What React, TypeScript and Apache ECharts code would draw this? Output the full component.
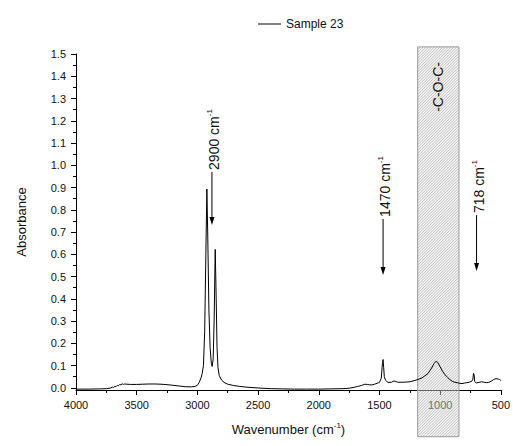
import React, { useEffect, useRef } from 'react';
import * as echarts from 'echarts';

const seriesName = 'Sample 23';

const wavenumbers = [
  4000, 3900, 3800, 3750, 3720, 3700, 3690, 3680, 3670, 3660, 3650, 3640, 3630, 3620, 3610, 3600,
  3580, 3550, 3500, 3450, 3400, 3350, 3300, 3250, 3200, 3150, 3100, 3050, 3020, 3000, 2985, 2970,
  2960, 2950, 2940, 2930, 2922, 2915, 2905, 2895, 2885, 2878, 2870, 2862, 2853, 2845, 2838, 2830,
  2820, 2800, 2780, 2750, 2700, 2650, 2600, 2550, 2500, 2400, 2300, 2200, 2100, 2000, 1900, 1800,
  1750, 1700, 1680, 1650, 1620, 1600, 1580, 1560, 1540, 1520, 1500, 1485, 1475, 1470, 1465, 1460,
  1450, 1430, 1400, 1380, 1370, 1350, 1300, 1250, 1200, 1150, 1100, 1070, 1050, 1035, 1020, 1000,
  980, 960, 940, 920, 900, 880, 860, 840, 820, 800, 780, 760, 740, 730, 725, 720,
  715, 710, 700, 680, 660, 640, 620, 600, 580, 560, 540, 520, 510, 500,
];

const absorbance = [
  -0.006, -0.006, -0.005, -0.004, -0.002, 0.003, 0.001, 0.007, 0.005, 0.011, 0.009, 0.015, 0.013, 0.018, 0.015, 0.017,
  0.016, 0.015, 0.015, 0.016, 0.017, 0.017, 0.016, 0.014, 0.011, 0.008, 0.005, 0.004, 0.006, 0.011, 0.024, 0.044,
  0.065, 0.1, 0.25, 0.6, 0.893, 0.7, 0.35, 0.18, 0.11, 0.096, 0.13, 0.3, 0.622, 0.4, 0.18, 0.09,
  0.055, 0.034, 0.024, 0.016, 0.01, 0.006, 0.003, 0.001, -0.001, -0.004, -0.005, -0.006, -0.006, -0.006, -0.005, -0.004,
  -0.002, 0.003, 0.006, 0.01, 0.016, 0.015, 0.013, 0.013, 0.016, 0.02, 0.024, 0.043, 0.113, 0.127, 0.09, 0.05,
  0.034, 0.024, 0.025, 0.031, 0.029, 0.025, 0.025, 0.027, 0.034, 0.044, 0.064, 0.089, 0.109, 0.119, 0.114, 0.094,
  0.074, 0.059, 0.047, 0.037, 0.029, 0.025, 0.023, 0.02, 0.019, 0.021, 0.023, 0.025, 0.029, 0.039, 0.065, 0.059,
  0.029, 0.024, 0.022, 0.024, 0.027, 0.025, 0.023, 0.024, 0.029, 0.037, 0.041, 0.039, 0.037, 0.033,
];

const yTickValues = [0, 0.1, 0.2, 0.3, 0.4, 0.5, 0.6, 0.7, 0.8, 0.9, 1.0, 1.1, 1.2, 1.3, 1.4, 1.5];
const yMinorTickValues = [0.05, 0.15, 0.25, 0.35, 0.45, 0.55, 0.65, 0.75, 0.85, 0.95, 1.05, 1.15, 1.25, 1.35, 1.45];

// peak annotations: label, wavenumber of arrow, absorbance where text starts, absorbance of arrow tip
const annotationLabels = ['2900', '1470', '718'];
const annotationWavenumbers = [2880, 1470, 700];
const annotationTextStart = [0.979, 0.768, 0.785];
const annotationTip = [0.732, 0.507, 0.525];

// shaded band
const bandLabel = '-C-O-C-';
const bandFrom = 1185;
const bandTo = 845;
const bandTop = 1.532;
const bandBottom = -0.22;
const bandTextStart = 1.24;

const FONT = 'Liberation Sans, Arial, Helvetica, sans-serif';
const TEXT_COLOR = '#111';

function buildGraphics(chart: echarts.ECharts) {
  const px = (w: number, v: number) => chart.convertToPixel({ seriesIndex: 0 }, [w, v]) as number[];
  const els: any[] = [];

  // band
  const pA = px(bandFrom, bandTop);
  const pB = px(bandTo, bandBottom);
  const x0 = Math.min(pA[0], pB[0]);
  const x1 = Math.max(pA[0], pB[0]);
  const y0 = Math.min(pA[1], pB[1]);
  const y1 = Math.max(pA[1], pB[1]);
  els.push({
    type: 'rect',
    z: 1,
    silent: true,
    shape: { x: x0, y: y0, width: x1 - x0, height: y1 - y0 },
    style: { fill: 'rgba(230,230,230,0.4)', stroke: 'none' },
  });
  const step = 2.8;
  for (let c = x0 + y0 + step; c < x1 + y1; c += step) {
    const xa = Math.max(x0, c - y1);
    const xb = Math.min(x1, c - y0);
    if (xa < xb) {
      els.push({
        type: 'line',
        z: 1,
        silent: true,
        shape: { x1: xa, y1: c - xa, x2: xb, y2: c - xb },
        style: { stroke: 'rgba(140,140,140,0.85)', lineWidth: 0.6 },
      });
    }
  }
  els.push({
    type: 'rect',
    z: 1,
    silent: true,
    shape: { x: x0, y: y0, width: x1 - x0, height: y1 - y0 },
    style: { fill: 'none', stroke: '#999', lineWidth: 1 },
  });
  const pT = px((bandFrom + bandTo) / 2, bandTextStart);
  els.push({
    type: 'text',
    z: 4,
    silent: true,
    x: (x0 + x1) / 2,
    y: pT[1],
    rotation: Math.PI / 2,
    style: {
      text: bandLabel,
      fontSize: 14,
      fontFamily: FONT,
      fill: TEXT_COLOR,
      align: 'left',
      verticalAlign: 'middle',
    },
  });

  // arrows
  annotationLabels.forEach((lab, i) => {
    const s = px(annotationWavenumbers[i], annotationTextStart[i]);
    const t = px(annotationWavenumbers[i], annotationTip[i]);
    const x = s[0];
    els.push({
      type: 'text',
      z: 4,
      silent: true,
      x: x + 2,
      y: s[1],
      rotation: Math.PI / 2,
      style: {
        text: `{a|${lab} cm}{s|-1}`,
        align: 'left',
        verticalAlign: 'middle',
        rich: {
          a: { fontSize: 14, fontFamily: FONT, fill: TEXT_COLOR, lineHeight: 14 },
          s: { fontSize: 8, fontFamily: FONT, fill: TEXT_COLOR, lineHeight: 8, padding: [0, 0, 9, 0] },
        },
      },
    });
    els.push({
      type: 'line',
      z: 4,
      silent: true,
      shape: { x1: x, y1: s[1] + 2, x2: x, y2: t[1] - 6 },
      style: { stroke: '#000', lineWidth: 1 },
    });
    els.push({
      type: 'polygon',
      z: 4,
      silent: true,
      shape: { points: [[x - 2.5, t[1] - 8], [x + 2.5, t[1] - 8], [x, t[1]]] },
      style: { fill: '#000' },
    });
  });
  return els;
}

export default function App() {
  const ref = useRef<HTMLDivElement>(null);
  useEffect(() => {
    const chart = echarts.init(ref.current!, null, { renderer: 'svg' });
    const data = wavenumbers.map((w, i) => [w, absorbance[i]]);
    chart.setOption({
      animation: false,
      backgroundColor: '#fff',
      textStyle: { fontFamily: FONT },
      legend: {
        left: 253,
        top: 13,
        itemWidth: 23,
        itemHeight: 1,
        itemGap: 6,
        textStyle: { fontSize: 12, color: TEXT_COLOR, fontFamily: FONT },
        data: [{ name: seriesName, icon: 'rect' }],
      },
      grid: { left: 76, right: 12, top: 54, bottom: 56 },
      xAxis: {
        type: 'value',
        inverse: true,
        min: 500,
        max: 4000,
        interval: 500,
        name: '{a|Wavenumber (cm}{s|-1}{a|)}',
        nameLocation: 'middle',
        nameGap: 32,
        nameTextStyle: {
          rich: {
            a: { fontSize: 13, fontFamily: FONT, color: TEXT_COLOR, lineHeight: 14 },
            s: { fontSize: 8, fontFamily: FONT, color: TEXT_COLOR, lineHeight: 8, padding: [0, 0, 8, 0] },
          },
        },
        axisLine: { onZero: false, lineStyle: { color: '#000', width: 1 } },
        axisTick: { length: 5, lineStyle: { color: '#000' } },
        minorTick: { show: true, splitNumber: 2, length: 3, lineStyle: { color: '#000' } },
        axisLabel: {
          fontSize: 11,
          color: TEXT_COLOR,
          margin: 9,
          fontFamily: FONT,
          formatter: (v: number) => String(v),
        },
        splitLine: { show: false },
      },
      yAxis: [
        {
          type: 'value',
          min: -0.01,
          max: 1.5,
          name: 'Absorbance',
          nameLocation: 'middle',
          nameGap: 48,
          nameTextStyle: { fontSize: 13, color: TEXT_COLOR, fontFamily: FONT },
          axisLine: { show: true, onZero: false, lineStyle: { color: '#000', width: 1 } },
          axisTick: { show: true, length: 5, customValues: yTickValues, lineStyle: { color: '#000' } },
          axisLabel: {
            fontSize: 11,
            color: TEXT_COLOR,
            margin: 10,
            fontFamily: FONT,
            customValues: yTickValues,
            formatter: (v: number) => v.toFixed(1),
          },
          splitLine: { show: false },
        },
        {
          type: 'value',
          min: -0.01,
          max: 1.5,
          position: 'left',
          alignTicks: false,
          axisLine: { show: false, onZero: false },
          axisTick: { show: true, length: 3, customValues: yMinorTickValues, lineStyle: { color: '#000' } },
          axisLabel: { show: false },
          splitLine: { show: false },
        },
      ],
      series: [
        {
          name: seriesName,
          type: 'line',
          data,
          yAxisIndex: 0,
          symbol: 'none',
          smooth: false,
          z: 3,
          lineStyle: { color: '#000', width: 1 },
          itemStyle: { color: '#000' },
        },
      ],
    });
    chart.setOption({ graphic: buildGraphics(chart) });
    return () => chart.dispose();
  }, []);
  return <div ref={ref} style={{ position: 'fixed', left: 0, top: 0, width: 513, height: 446 }} />;
}
